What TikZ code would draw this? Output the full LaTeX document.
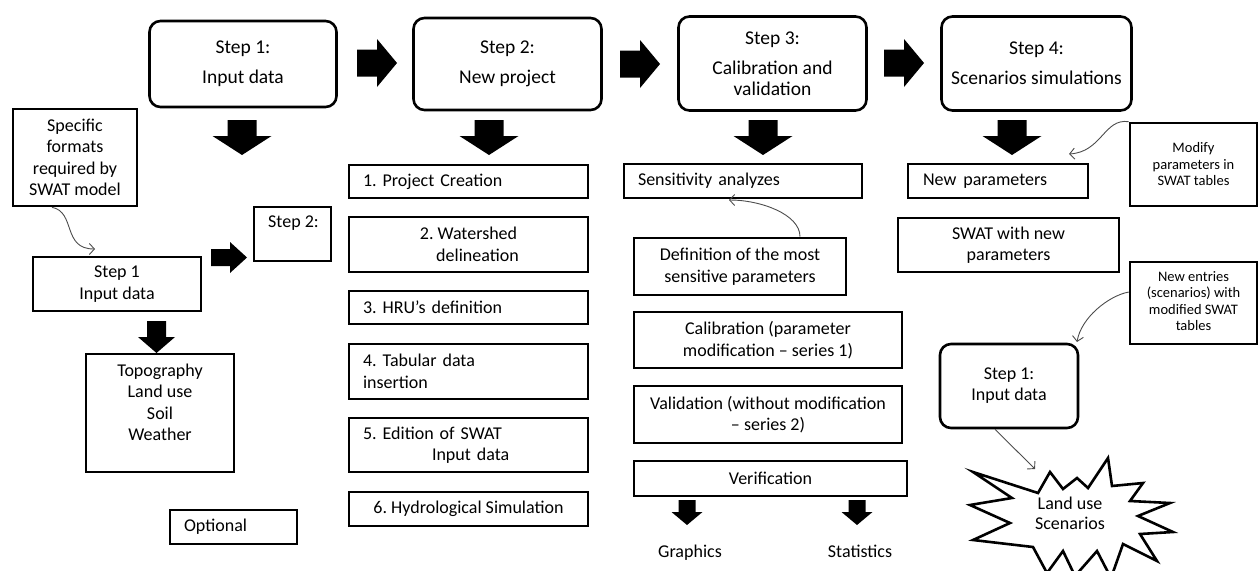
\documentclass[tikz,border=0pt]{standalone}
\usepackage{fontspec}
\setmainfont{Carlito}
\usetikzlibrary{arrows.meta}
\begin{document}
\frenchspacing
\begin{tikzpicture}[x=1pt,y=-1pt,
  box/.style={draw, line width=2.6pt, inner sep=0pt, font=\fontsize{18}{21.5}\selectfont, align=center},
  rbox/.style={box, rounded corners=11pt},
  topfont/.style={font=\fontsize{19.5}{20.5}\selectfont},
  txt/.style={inner sep=0pt, font=\fontsize{18}{21.5}\selectfont, align=center},
  small/.style={font=\fontsize{14.5}{16.5}\selectfont},
  link/.style={draw=black!70, line width=0.9pt, -{Straight Barb[length=5pt,width=11pt]}},
  bigdown/.pic={\fill (-14.5,0) -- (14.5,0) -- (14.5,16) -- (29.5,16) -- (0,35) -- (-29.5,16) -- (-14.5,16) -- cycle;},
  meddown/.pic={\fill (-9.5,0) -- (9.5,0) -- (9.5,16) -- (18.5,16) -- (0,32) -- (-18.5,16) -- (-9.5,16) -- cycle;},
  smalldown/.pic={\fill (-8.5,0) -- (8.5,0) -- (8.5,12) -- (15.5,12) -- (0,25) -- (-15.5,12) -- (-8.5,12) -- cycle;},
  bigright/.pic={\fill (0,-13.5) -- (20,-13.5) -- (20,-24) -- (40,0) -- (20,24) -- (20,13.5) -- (0,13.5) -- cycle;},
  smallright/.pic={\fill (0,-8.5) -- (19,-8.5) -- (19,-15.5) -- (36,0) -- (19,15.5) -- (19,8.5) -- (0,8.5) -- cycle;}
]
\useasboundingbox (0,0) rectangle (1260,570);

% ---- top row ----
\node[rbox, topfont, minimum width=187pt, minimum height=86pt] (s1) at (243,64) {Step 1:\\[9.5pt]Input data};
\node[rbox, topfont, minimum width=188pt, minimum height=92pt] (s2) at (507.5,64) {Step 2:\\[9.5pt]New project};
\node[rbox, topfont, minimum width=188pt, minimum height=94pt] (s3) at (772.5,63.5) {Step 3:\\[9.5pt]Calibration and\\validation};
\node[rbox, topfont, minimum width=190pt, minimum height=94pt] (s4) at (1036.5,63.5) {Step 4:\\[9.5pt]Scenarios simulations};

\pic at (357,63) {bigright};
\pic at (620,64) {bigright};
\pic at (884,63) {bigright};

\pic at (242,120) {bigdown};
\pic at (489,120) {bigdown};
\pic at (763,120) {bigdown};
\pic at (1012,120) {bigdown};

% ---- left column ----
\node[box, minimum width=124pt, minimum height=97pt] (spec) at (75,157.5) {Specific\\formats\\required by\\SWAT model};
\node[box, minimum width=168pt, minimum height=54pt] (s1in) at (117,284) {Step 1\\Input data};
\node[box, minimum width=77pt, minimum height=54pt] (st2s) at (292.5,234) {};
\node[txt, anchor=west] (st2t) at (268,223) {Step 2:};
\node[box, minimum width=148pt, minimum height=118pt] (topo) at (160,413) {};
\node[txt] (topot) at (160,402.5) {Topography\\Land use\\Soil\\Weather};
\node[box, minimum width=127pt, minimum height=34pt, text width=99pt, align=left] (opt) at (233.5,527) {Optional};

\pic at (211,257.5) {smallright};
\pic at (156.5,321) {meddown};

\coordinate (e1) at (95,249);
\draw[link] ([xshift=-23pt]spec.south) .. controls (76,212) and (62,249) .. (e1);

% ---- step 2 column ----
\node[box, minimum width=239pt, minimum height=33pt, text width=211pt, align=left] (p1) at (468.5,181.5) {1. Project Creation};
\node[box, minimum width=239pt, minimum height=55pt] (p2) at (468.5,244.5) {2. Watershed\\\hspace*{18pt}delineation};
\node[box, minimum width=239pt, minimum height=33pt, text width=211pt, align=left] (p3) at (468.5,307.5) {3. HRU’s definition};
\node[box, minimum width=239pt, minimum height=55pt, text width=211pt, align=left] (p4) at (468.5,371.5) {4. Tabular data\\insertion};
\node[box, minimum width=239pt, minimum height=54pt, text width=211pt, align=left] (p5) at (468.5,445) {5. Edition of SWAT\\\hspace*{69pt}Input data};
\node[box, minimum width=239pt, minimum height=34pt] (p6) at (468.5,509) {6. Hydrological Simulation};

% ---- step 3 column ----
\node[box, minimum width=238pt, minimum height=34pt, text width=210pt, align=left] (sens) at (743,181) {Sensitivity analyzes};
\node[box, minimum width=212pt, minimum height=57pt] (defn) at (740,266.5) {Definition of the most\\sensitive parameters};
\node[box, minimum width=268pt, minimum height=56pt] (calib) at (768,340) {Calibration (parameter\\modification – series 1)};
\node[box, minimum width=268pt, minimum height=57pt] (valid) at (768,414.5) {Validation (without modification\\– series 2)};
\node[box, minimum width=273pt, minimum height=35pt] (verif) at (770.5,478.5) {Verification};
\pic at (687,500) {smalldown};
\pic at (857,500) {smalldown};
\node[txt, anchor=base] (graph) at (690,557) {Graphics};
\node[txt, anchor=base] (stat) at (860,557) {Statistics};

\coordinate (e2) at (729,200);
\draw[link] ([xshift=60pt]defn.north) .. controls (800,214) and (760,200) .. (e2);

% ---- step 4 column ----
\node[box, minimum width=180pt, minimum height=34pt, text width=150pt, align=left] (newp) at (998,181) {New\hspace{7pt}parameters};
\node[box, minimum width=221pt, minimum height=54pt] (swatn) at (1008.5,245) {SWAT with new\\parameters};
\node[box, small, minimum width=127pt, minimum height=83pt] (modify) at (1193.5,164.5) {Modify\\parameters in\\SWAT tables};
\node[box, minimum width=127pt, minimum height=82pt] (newent) at (1193.5,303) {};
\node[txt, small] (newentt) at (1193.5,301) {New entries\\(scenarios) with\\modified SWAT\\tables};
\node[rbox, minimum width=138pt, minimum height=84pt] (s1b) at (1009,386) {};
\node[txt] (s1bt) at (1009,385.5) {Step 1:\\Input data};

\coordinate (e3) at (1069,154);
\draw[link] (modify.north west) .. controls (1104,118) and (1102,152) .. (e3);
\coordinate (e4) at (1077,342);
\draw[link] ([yshift=11pt]newent.west) .. controls (1108,296) and (1081,318) .. (e4);

% starburst
\draw[line width=2.6pt, line join=miter, fill=white]
  (973,472) -- (1038,493) -- (1050,472) -- (1063,489) -- (1077,478) -- (1088,488)
  -- (1108,458) -- (1112,486) -- (1143,483) -- (1130,501) -- (1170,503) -- (1138,516)
  -- (1173,532) -- (1140,534) -- (1157,561) -- (1123,544) -- (1111,578) -- (1097,551)
  -- (1075,576) -- (1063,551) -- (1047,573) -- (1033,547) -- (973,540) -- (1010,523)
  -- (970,505) -- (1012,498) -- cycle;
\node[txt, font=\fontsize{18}{20}\selectfont] (land) at (1070,513) {Land use\\Scenarios};

\coordinate (e5) at (1035,469);
\draw[link] ([xshift=-14pt]s1b.south) -- (e5);
\end{tikzpicture}
\end{document}
